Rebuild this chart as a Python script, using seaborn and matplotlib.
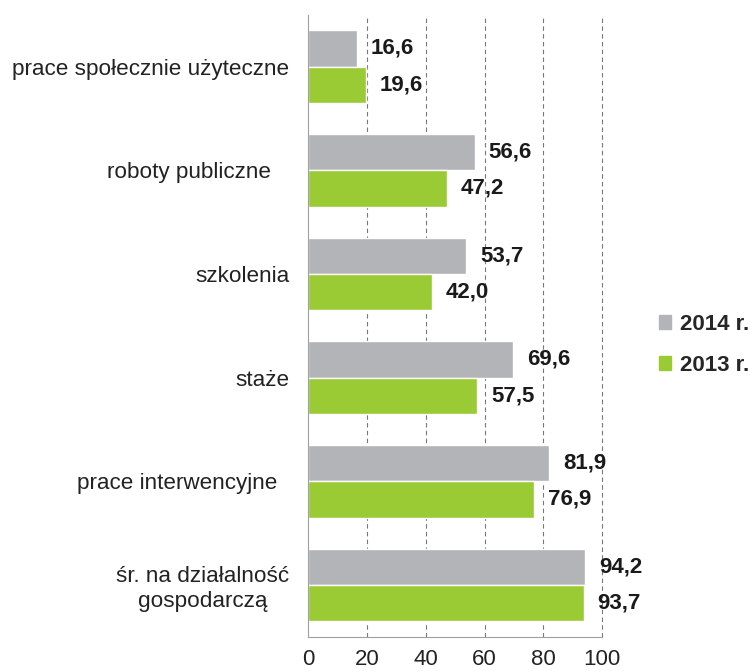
import numpy as np
import pandas as pd
import matplotlib
matplotlib.use("Agg")
import matplotlib.pyplot as plt
import seaborn as sns

categories = ["prace społecznie użyteczne", "roboty publiczne   ", "szkolenia",
              "staże", "prace interwencyjne  ", "śr. na działalność\ngospodarczą"]
years = ["2014 r.", "2013 r."]
values_2014 = [16.6, 56.6, 53.7, 69.6, 81.9, 94.2]
values_2013 = [19.6, 47.2, 42.0, 57.5, 76.9, 93.7]
x_ticks = [0, 20, 40, 60, 80, 100]

colors = ["#B2B4B8", "#9ACB34"]

sns.set_style("white")
plt.rcParams["font.family"] = ["Liberation Sans", "DejaVu Sans"]

df = pd.DataFrame({
    "kategoria": categories * 2,
    "rok": [years[0]] * len(categories) + [years[1]] * len(categories),
    "wartosc": values_2014 + values_2013,
})

fig = plt.figure(figsize=(7.5, 6.71), dpi=100)
ax = fig.add_axes([0.411, 0.051, 0.392, 0.927])

sns.barplot(data=df, y="kategoria", x="wartosc", hue="rok", orient="h",
            palette=colors, width=0.7, saturation=1, legend=False, ax=ax)

for cont in ax.containers:
    labels = [f"{v:.1f}".replace(".", ",") for v in cont.datavalues]
    ax.bar_label(cont, labels=labels, padding=10, fontsize=16,
                 fontweight="bold", color="#1a1a1a")

ax.set_xlim(0, 100)
ax.set_ylim(5.5, -0.5)
ax.set_xticks(x_ticks)
ax.set_xticklabels([str(t) for t in x_ticks], fontsize=16, color="#222222")
ax.tick_params(axis="x", length=0, pad=8.5)
ax.tick_params(axis="y", length=0, pad=13.5, labelsize=16.2, labelcolor="#222222")
for lbl in ax.get_yticklabels():
    lbl.set_multialignment("center")
ax.set_xlabel("")
ax.set_ylabel("")

for t in x_ticks[1:]:
    ax.axvline(t, color="#777777", linestyle=(0, (4, 3)), linewidth=0.8,
               zorder=0, clip_on=False)

sns.despine(ax=ax, top=True, right=True)
ax.spines["left"].set_color("#A0A0A0")
ax.spines["bottom"].set_color("#A0A0A0")

handles = [plt.Rectangle((0, 0), 1, 1, color=c) for c in colors]
fig.legend(handles, years, loc="center left", bbox_to_anchor=(0.879, 0.486),
           frameon=False, handlelength=0.55, handleheight=0.55, handletextpad=0.4,
           labelspacing=0.9, borderpad=0, borderaxespad=0,
           prop={"weight": "bold", "size": 16})

fig.savefig("out.png", dpi=100)
